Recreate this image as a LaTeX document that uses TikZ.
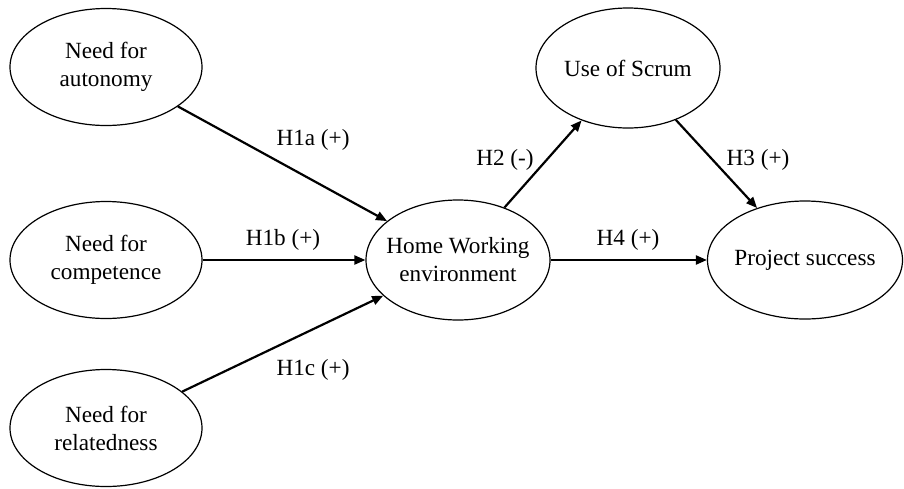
\documentclass[tikz,border=0pt]{standalone}
\usepackage{fontspec}
\setmainfont{Liberation Serif}
\usetikzlibrary{shapes.geometric,arrows.meta}
\begin{document}
\begin{tikzpicture}[x=1pt,y=-1pt,
    construct/.style={ellipse,draw,line width=1.2pt,inner sep=-10pt,align=center,
        font=\fontsize{23.2}{28}\selectfont},
    hyp/.style={-{Triangle[length=11pt,width=9pt]},line width=2.2pt},
    hlabel/.style={font=\fontsize{23.2}{28}\selectfont}]
    \useasboundingbox (0,0) rectangle (904,488);
    % constructs
    \node[construct,minimum width=192pt,minimum height=117pt] (aut) at (106,67) {Need for\\autonomy};
    \node[construct,minimum width=192pt,minimum height=117pt] (comp) at (106,260) {Need for\\competence};
    \node[construct,minimum width=192pt,minimum height=117pt] (rel) at (106,428) {Need for\\relatedness};
    \node[construct,minimum width=184pt,minimum height=120pt] (home) at (458,260) {Home Working\\environment};
    \node[construct,minimum width=184pt,minimum height=120pt] (scrum) at (628,68) {Use of Scrum};
    \node[construct,minimum width=195pt,minimum height=118pt] (succ) at (805,260) {Project success};

    % hypotheses
    \draw[hyp] (aut) -- (home);
    \draw[hyp] (comp) -- (home);
    \draw[hyp] (rel) -- (home);
    \draw[hyp] (home) -- (scrum);
    \draw[hyp] (scrum) -- (succ);
    \draw[hyp] (home) -- (succ);

    \node[hlabel] (h1a) at (313,140) {H1a (+)};
    \node[hlabel] (h1b) at (283,240) {H1b (+)};
    \node[hlabel] (h1c) at (313,370) {H1c (+)};
    \node[hlabel] (h2) at (505,160) {H2 (-)};
    \node[hlabel] (h3) at (758,160) {H3 (+)};
    \node[hlabel] (h4) at (628,240) {H4 (+)};
\end{tikzpicture}
\end{document}
